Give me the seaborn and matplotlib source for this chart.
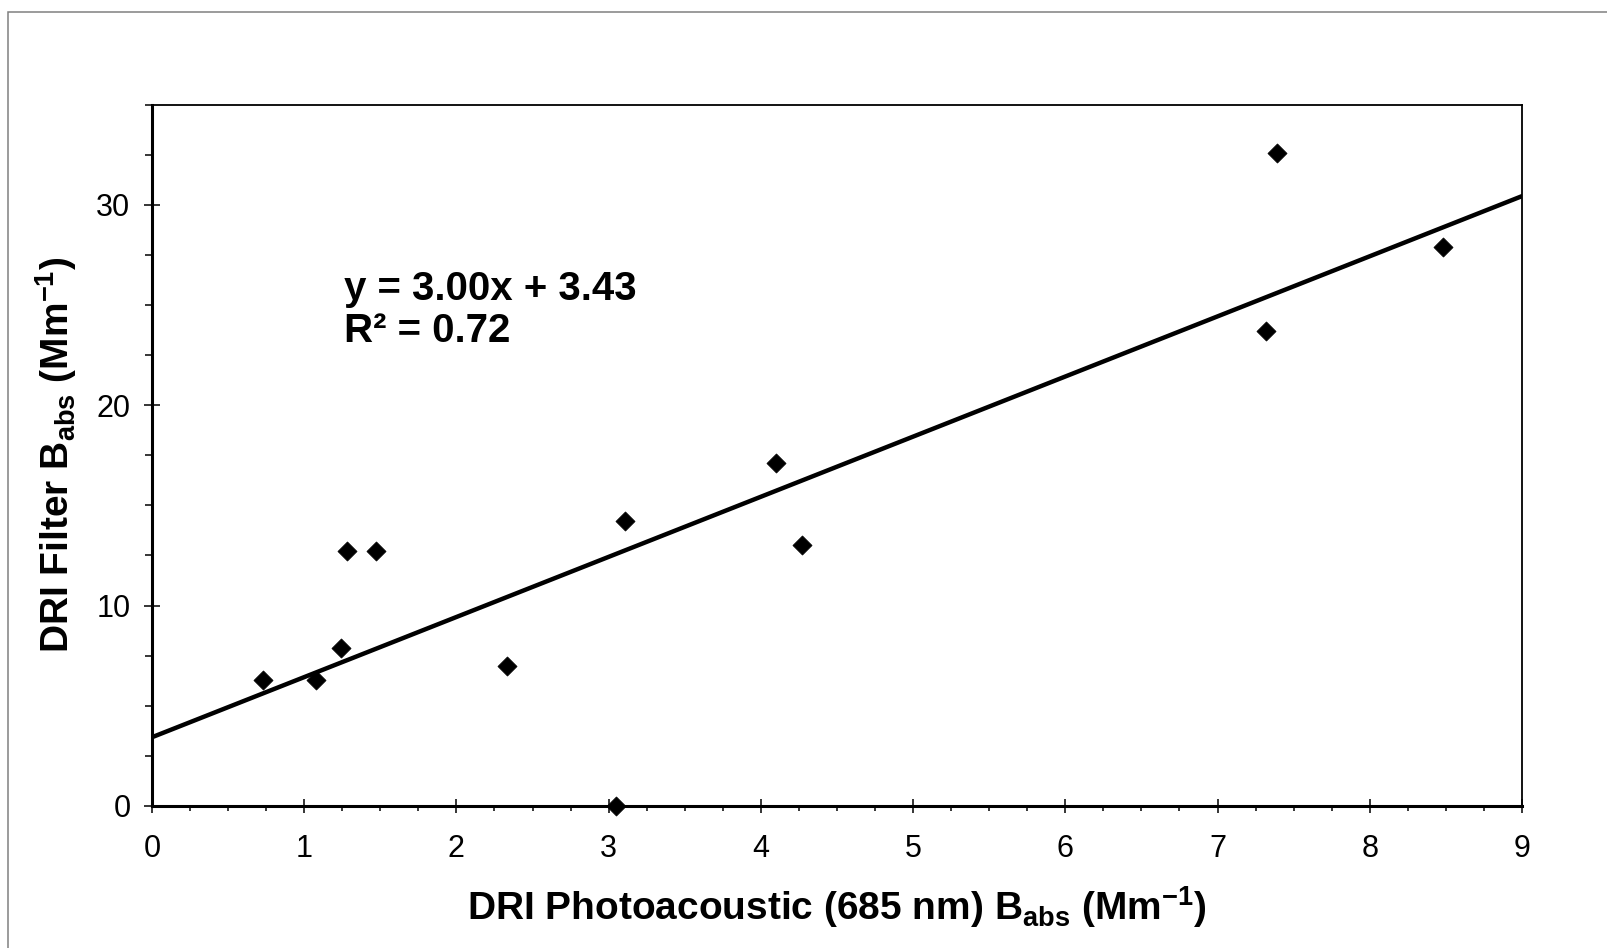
# DRI filter vs photoacoustic absorption scatter with linear fit

import numpy as np
import pandas as pd
import seaborn as sns
import matplotlib.pyplot as plt
from matplotlib.patches import Rectangle
from matplotlib.ticker import MultipleLocator

# values
pa_babs = [0.73, 1.08, 1.24, 1.28, 1.47, 2.33, 3.05, 3.11, 4.10, 4.27, 7.32, 7.39, 8.48]
filter_babs = [6.3, 6.3, 7.9, 12.7, 12.7, 7.0, 0.0, 14.2, 17.1, 13.0, 23.7, 32.6, 27.9]
slope = 3.00
intercept = 3.43
r_squared = 0.72
x_lim = (0, 9)
y_lim = (0, 35)

df = pd.DataFrame({'pa': pa_babs, 'filt': filter_babs})

sns.set_style('white')
plt.rcParams['font.family'] = ['Liberation Sans', 'DejaVu Sans']
plt.rcParams['mathtext.fontset'] = 'custom'
plt.rcParams['mathtext.rm'] = 'Liberation Sans'
plt.rcParams['mathtext.bf'] = 'Liberation Sans:bold'
plt.rcParams['text.color'] = 'black'
plt.rcParams['axes.labelcolor'] = 'black'
plt.rcParams['xtick.color'] = 'black'
plt.rcParams['ytick.color'] = 'black'

fig = plt.figure(figsize=(16.08, 9.48), dpi=100)
ax = fig.add_axes([0.0945, 0.1498, 0.852, 0.7399])

# fit line from the stated equation
fit_x = np.array(x_lim, dtype=float)
fit_y = slope * fit_x + intercept
sns.lineplot(x=fit_x, y=fit_y, ax=ax, color='black', linewidth=3.2, zorder=3)

sns.scatterplot(data=df, x='pa', y='filt', ax=ax, marker='D', s=95,
                color='black', edgecolor='black', linewidth=0.5,
                zorder=5, clip_on=False)

ax.set_xlim(x_lim)
ax.set_ylim(y_lim)
ax.xaxis.set_major_locator(MultipleLocator(1))
ax.xaxis.set_minor_locator(MultipleLocator(0.25))
ax.yaxis.set_major_locator(MultipleLocator(10))
ax.yaxis.set_minor_locator(MultipleLocator(2.5))

ax.tick_params(axis='x', which='major', direction='inout', length=10, width=1.1,
               labelsize=22, pad=15, bottom=True)
ax.tick_params(axis='x', which='minor', direction='out', length=3.5, width=1.1, bottom=True)
ax.tick_params(axis='y', which='major', direction='inout', length=11, width=1.1,
               labelsize=22, pad=10, left=True)
ax.tick_params(axis='y', which='minor', direction='out', length=5, width=1.1, left=True)

for side in ['left', 'bottom']:
    ax.spines[side].set_linewidth(2.2)
    ax.spines[side].set_color('black')
for side in ['top', 'right']:
    ax.spines[side].set_linewidth(1.3)
    ax.spines[side].set_color('black')

ax.set_xlabel(r'DRI Photoacoustic (685 nm) B$_{\mathbf{abs}}$ (Mm$^{\mathbf{-1}}$)',
              fontsize=28, fontweight='bold')
ax.set_ylabel(r'DRI Filter B$_{\mathbf{abs}}$ (Mm$^{\mathbf{-1}}$)',
              fontsize=28, fontweight='bold')
ax.xaxis.set_label_coords(0.5, -0.112)
ax.yaxis.set_label_coords(-0.053, 0.5)

ax.text(1.26, 26.75, 'y = {0:.2f}x + {1:.2f}\nR\u00b2 = {2:.2f}'.format(slope, intercept, r_squared),
        fontsize=29, fontweight='bold', va='top', ha='left', linespacing=1.15)

# grey chart-area border
fig.add_artist(Rectangle((0.0052, -0.1), 1.2, 1.0877, transform=fig.transFigure,
                         fill=False, edgecolor='#808080', linewidth=1.1))

fig.savefig('out.png', dpi=100)
